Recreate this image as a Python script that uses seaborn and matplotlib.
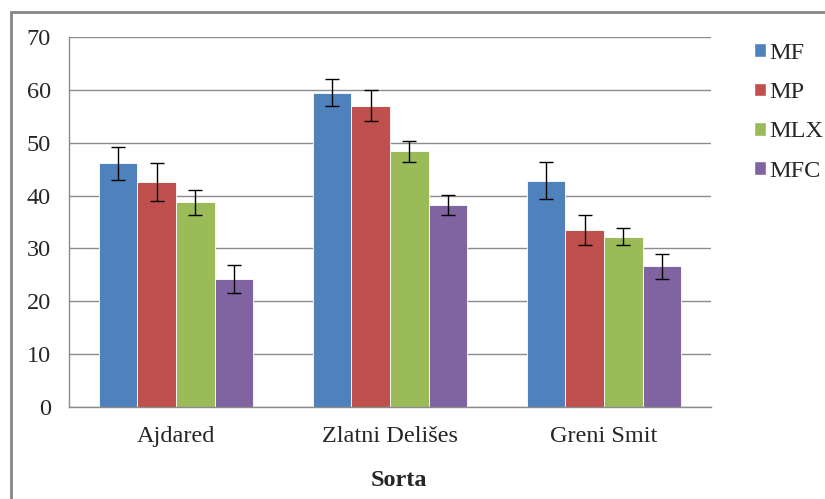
import numpy as np
import pandas as pd
from matplotlib import pyplot as plt
from matplotlib.patches import Rectangle
import seaborn as sns

sorts = ["Ajdared", "Zlatni Delišes", "Greni Smit"]
series = ["MF", "MP", "MLX", "MFC"]
mf = [46.1, 59.5, 42.8]
mp = [42.6, 57.0, 33.5]
mlx = [38.7, 48.4, 32.2]
mfc = [24.2, 38.2, 26.6]
mf_err = [3.1, 2.5, 3.5]
mp_err = [3.6, 2.9, 2.8]
mlx_err = [2.3, 2.0, 1.6]
mfc_err = [2.6, 1.9, 2.3]
colors = ["#4F81BD", "#C0504D", "#9BBB59", "#8064A2"]

df = pd.DataFrame({
    "Sorta": sorts * 4,
    "Serija": [s for s in series for _ in sorts],
    "Vrijednost": mf + mp + mlx + mfc,
})
errs = [mf_err, mp_err, mlx_err, mfc_err]

sns.set_style("white")
plt.rcParams["font.family"] = ["Liberation Serif", "DejaVu Serif"]
fs = 17.5

fig = plt.figure(figsize=(8.25, 4.99), dpi=100)
ax = fig.add_axes([69 / 825, 1 - 407 / 499, 642 / 825, 370 / 499])

sns.barplot(data=df, x="Sorta", y="Vrijednost", hue="Serija", order=sorts,
            hue_order=series, palette=colors, width=0.724, gap=0,
            saturation=1, errorbar=None, edgecolor="white", linewidth=0.6,
            legend=False, ax=ax)

for cont, e in zip(ax.containers, errs):
    xs = [p.get_x() + p.get_width() / 2 for p in cont]
    ys = [p.get_height() for p in cont]
    ax.errorbar(xs, ys, yerr=e, fmt="none", ecolor="black", elinewidth=1,
                capsize=5, capthick=1, zorder=5)

ax.set_ylim(0, 70)
ax.set_xlim(-0.5, 2.5)
ax.set_yticks(np.arange(0, 71, 10))
ax.yaxis.grid(True, color="#8c8c8c", linewidth=1)
ax.set_axisbelow(True)
for s in ["top", "right"]:
    ax.spines[s].set_visible(False)
for s in ["left", "bottom"]:
    ax.spines[s].set_color("#8c8c8c")
    ax.spines[s].set_linewidth(1)

ax.tick_params(axis="y", length=6, color="#8c8c8c", pad=7, labelsize=fs)
ax.tick_params(axis="x", which="major", length=0, pad=14, labelsize=fs)
ax.set_xticks([-0.5, 0.5, 1.5, 2.5], minor=True)
ax.tick_params(axis="x", which="minor", length=6, color="#8c8c8c")
ax.set_xlabel("")
ax.set_ylabel("")

fig.text(399 / 825, 1 - 481 / 499, "Sorta", ha="center", va="center",
         fontsize=fs, fontweight="bold")

handles = [Rectangle((0, 0), 1, 1, facecolor=c) for c in colors]
fig.legend(handles, series, loc="upper left",
           bbox_to_anchor=(732 / 825, 1 - 21 / 499), frameon=False,
           fontsize=fs, handlelength=0.5, handleheight=0.5,
           handletextpad=0.15, labelspacing=0.75)

fig.add_artist(Rectangle((11 / 825, -0.1), 1.2, 1 - 12 / 499 + 0.1,
                         transform=fig.transFigure, fill=False,
                         edgecolor="#868686", linewidth=2))

fig.savefig("out.png", dpi=100)
